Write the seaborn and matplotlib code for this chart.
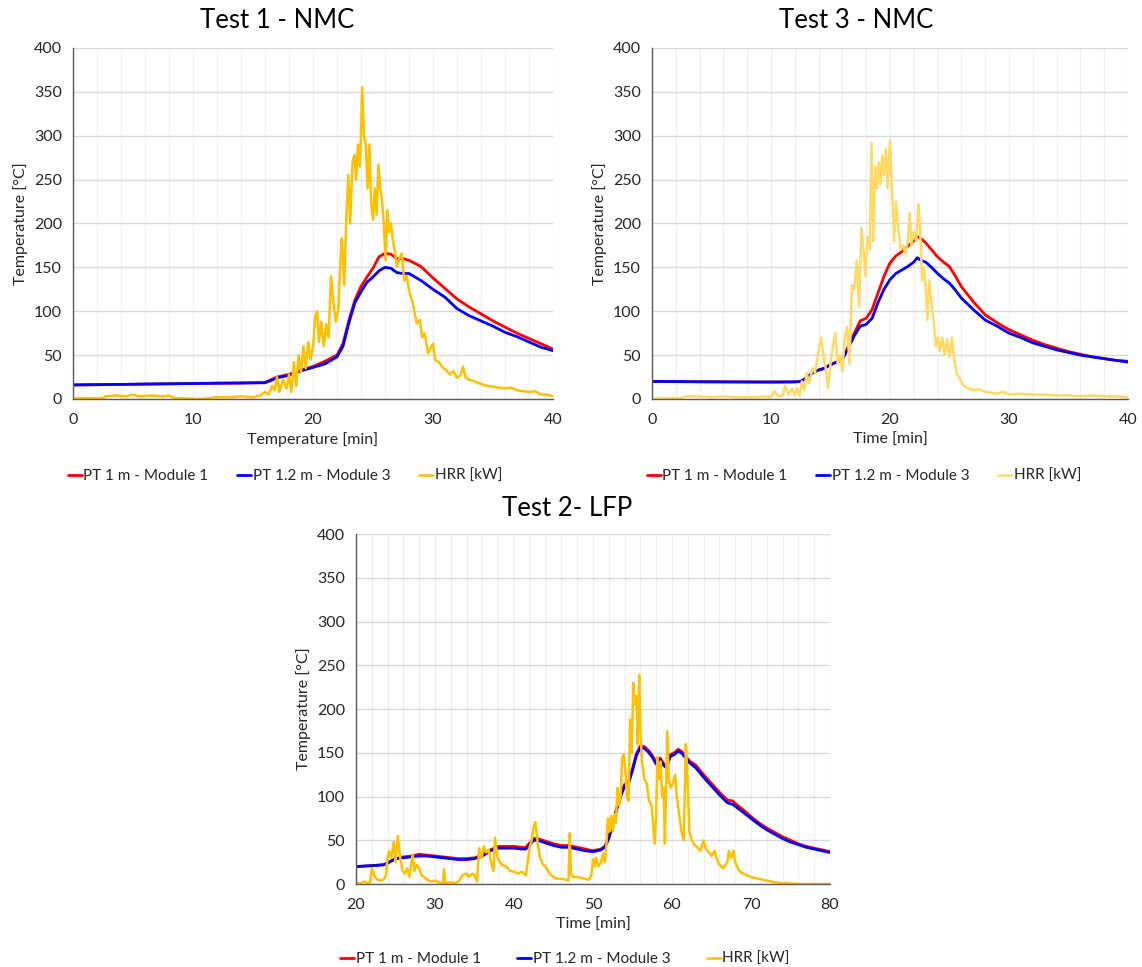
import numpy as np
import pandas as pd
import matplotlib
matplotlib.use("Agg")
import matplotlib.pyplot as plt
from matplotlib.ticker import MultipleLocator
import seaborn as sns

# ----- Test 1 - NMC -----
t1_time = [0, 2, 4, 6, 8, 10, 12, 14, 15, 16, 16.5, 17, 18, 19, 20, 21, 22, 22.5, 23, 23.5,
           24, 24.5, 25, 25.5, 26, 26.5, 27, 27.5, 28, 29, 30, 31, 32, 33, 34, 35, 36, 37, 38, 39, 40]
t1_pt1 = [16, 16.3, 16.6, 17, 17.3, 17.6, 18, 18.2, 18.4, 18.6, 22, 25, 28, 33, 37, 43, 50, 63, 90, 113,
          128, 139, 149, 162, 166, 165, 160, 160, 158, 151, 138, 126, 114, 105, 97, 89, 82, 75, 69, 63, 57]
t1_pt12 = [16, 16.3, 16.6, 17, 17.3, 17.6, 18, 18.2, 18.4, 18.6, 21, 24, 27, 32, 36, 40, 48, 60, 87, 110,
           122, 133, 139, 146, 150, 149, 144, 143, 143, 135, 125, 116, 103, 95, 89, 83, 76, 71, 65, 59, 55]
t1_hrr_time = [0, 1, 2, 2.5, 2.7, 3.5, 4.5, 5, 5.5, 6.5, 7.5, 8, 8.5, 9.5, 10.5, 11.5, 11.8, 13, 14, 15,
               15.6, 16, 16.3, 16.6, 16.8, 17, 17.2, 17.5, 17.8, 18, 18.2, 18.4, 18.6, 18.8, 19.0, 19.2, 19.4, 19.6, 19.8, 20.0,
               20.2, 20.35, 20.5, 20.7, 20.9, 21.1, 21.3, 21.5, 21.7, 21.9, 22.1, 22.3, 22.4, 22.6, 22.8, 22.95, 23.1, 23.3, 23.45, 23.6,
               23.75, 23.9, 24.0, 24.1, 24.25, 24.4, 24.55, 24.7, 24.85, 25.0, 25.15, 25.3, 25.45, 25.6, 25.75, 25.9, 26.05, 26.2, 26.35, 26.5,
               26.65, 26.8, 27.0, 27.2, 27.4, 27.6, 27.8, 28.0, 28.3, 28.65, 28.9, 29.1, 29.3, 29.6, 29.8, 30.0, 30.2, 30.5, 30.8, 31.1,
               31.4, 31.7, 32.0, 32.3, 32.5, 32.7, 33, 33.5, 34, 34.5, 35, 36, 36.5, 37, 38, 38.5, 39, 39.5, 40]
t1_hrr = [0.5, 1, 0.5, 1, 3, 4, 3, 5, 3, 4, 3, 4, 1, 0.5, 0, 1, 2, 2, 3, 2,
          4, 8, 5, 15, 10, 25, 8, 22, 12, 28, 8, 42, 15, 50, 30, 60, 35, 65, 45, 60,
          95, 100, 65, 88, 60, 85, 70, 140, 110, 88, 100, 160, 183, 130, 215, 255, 200, 270, 278, 250,
          290, 265, 300, 355, 300, 290, 240, 290, 223, 204, 240, 210, 267, 240, 227, 200, 158, 215, 190, 200,
          181, 170, 151, 160, 166, 135, 140, 124, 110, 86, 90, 70, 75, 52, 58, 63, 44, 42, 36, 33,
          28, 32, 24, 27, 37, 25, 22, 20, 17, 15, 14, 12, 13, 10, 8, 9, 5, 5, 3]

# ----- Test 3 - NMC -----
t3_time = [0, 2, 4, 6, 8, 10, 12, 12.5, 13, 13.5, 14, 14.5, 15, 15.5, 16, 16.5, 17, 17.5, 18, 18.5,
           19, 19.5, 20, 20.5, 21, 21.5, 22, 22.3, 22.6, 23, 23.5, 24, 24.5, 25, 25.5, 26, 27, 28, 29, 30,
           31, 32, 33, 34, 35, 36, 37, 38, 39, 40]
t3_pt1 = [20, 19.8, 19.6, 19.5, 19.4, 19.3, 19.5, 20, 24, 30, 33, 35, 39, 42, 45, 60, 75, 89, 92, 102,
          121, 140, 155, 163, 168, 174, 180, 185, 183, 178, 170, 162, 156, 151, 140, 128, 111, 96, 87, 79,
          73, 67, 62, 58, 54, 51, 48, 46, 44, 43]
t3_pt12 = [20, 19.8, 19.6, 19.5, 19.4, 19.3, 19.5, 20, 24, 30, 33, 35, 39, 42, 45, 58, 72, 83, 85, 92,
           110, 125, 136, 143, 147, 151, 156, 161, 158, 156, 150, 143, 137, 132, 124, 115, 102, 90, 83, 75,
           70, 64, 60, 56, 53, 50, 48, 46, 44, 42]
t3_hrr_time = [0, 1, 2.5, 2.8, 4, 5, 6, 7, 8, 9, 9.5, 10, 10.3, 10.6, 11, 11.2, 11.5, 11.8, 12, 12.2,
               12.4, 12.6, 12.8, 13, 13.2, 13.5, 13.7, 14, 14.2, 14.4, 14.6, 14.8, 15.0, 15.2, 15.4, 15.6, 15.8, 16.0, 16.2, 16.4,
               16.6, 16.8, 17.0, 17.2, 17.4, 17.6, 17.8, 17.95, 18.1, 18.3, 18.45, 18.6, 18.75, 18.9, 19.05, 19.2, 19.35, 19.5, 19.65, 19.8,
               20.0, 20.2, 20.35, 20.5, 20.7, 20.9, 21.1, 21.3, 21.5, 21.65, 21.8, 22.0, 22.2, 22.4, 22.55, 22.7, 22.85, 23.0, 23.15, 23.3,
               23.5, 23.7, 23.85, 24.0, 24.2, 24.4, 24.6, 24.8, 25.0, 25.2, 25.4, 25.6, 25.9, 26.2, 26.6, 27, 27.5, 28, 29, 29.5,
               30, 31, 32, 33, 34, 35, 36, 37, 38, 39, 40]
t3_hrr = [0.5, 1, 1, 3, 3, 2, 3, 2, 2, 2, 3, 2, 9, 3, 4, 15, 5, 12, 4, 12,
          3, 20, 10, 30, 18, 35, 30, 55, 70, 50, 35, 12, 40, 60, 75, 40, 50, 32, 70, 82,
          40, 130, 125, 158, 105, 195, 165, 140, 185, 170, 292, 180, 265, 240, 270, 245, 278, 255, 285, 240,
          295, 230, 180, 225, 195, 170, 175, 165, 180, 212, 175, 190, 180, 222, 190, 135, 150, 128, 90, 135,
          108, 85, 60, 70, 55, 70, 50, 68, 48, 70, 45, 30, 22, 15, 12, 10, 11, 8, 6, 8,
          5, 6, 5, 5, 4, 4, 3, 4, 3, 3, 2]

# ----- Test 2 - LFP -----
t2_time = [20, 22, 23.5, 24, 25, 26, 27, 28, 29, 30,
           31, 32, 33, 34, 35, 36, 36.5, 37, 38, 39,
           40, 41, 41.5, 42, 42.5, 43, 44, 45, 46, 47,
           48, 49, 50, 51, 51.5, 52, 52.5, 53, 53.5, 54,
           54.5, 55, 55.5, 56, 56.5, 57, 57.5, 58, 58.5, 59,
           59.3, 59.8, 60.3, 60.8, 61.3, 61.8, 62.3, 63, 64, 65,
           66, 67, 67.7, 68, 69, 70, 71, 72, 73, 74,
           75, 76, 77, 78, 79, 80]
t2_pt1 = [20, 21, 22, 24, 29, 31, 32, 34, 33, 32,
          31, 30, 29, 29, 30, 33, 36, 39, 43, 43,
          43, 42, 42, 47, 52, 52, 49, 46, 44, 44,
          42, 40, 38, 40, 43, 54, 70, 87, 102, 114,
          117, 132, 149, 158, 157, 153, 147, 139, 144, 137,
          135, 148, 150, 154, 151, 145, 140, 136, 125, 115,
          105, 96, 95, 92, 85, 77, 70, 64, 59, 54,
          50, 46, 43, 41, 39, 37]
t2_pt12 = [20, 21, 22, 24, 29, 30, 31, 32, 32, 31,
           30, 29, 28, 28, 29, 32, 35, 38, 41, 41,
           41, 40, 40, 45, 50, 50, 47, 44, 42, 42,
           40, 38, 37, 39, 42, 52, 68, 85, 100, 112,
           115, 130, 147, 156, 155, 151, 145, 137, 142, 135,
           133, 146, 148, 152, 149, 143, 138, 133, 122, 112,
           102, 93, 91, 89, 82, 75, 68, 62, 57, 52,
           48, 45, 42, 40, 38, 36]
t2_hrr_time = [20, 20.5, 21, 21.5, 21.8, 22, 22.3, 22.6, 23, 23.5,
               23.8, 24, 24.2, 24.4, 24.6, 24.8, 25, 25.3, 25.6, 25.9,
               26.2, 26.5, 26.8, 27, 27.2, 27.4, 27.7, 28, 28.3, 28.6,
               29, 29.5, 30, 30.5, 31, 31.15, 31.3, 32, 32.5, 33,
               33.5, 34, 34.3, 34.7, 35, 35.3, 35.6, 35.9, 36.2, 36.5,
               36.8, 37.1, 37.4, 37.6, 37.9, 38.2, 38.5, 39, 39.5, 40,
               40.5, 41, 41.5, 42, 42.2, 42.5, 42.7, 43.0, 43.3, 43.7,
               44, 44.5, 45, 45.5, 46, 46.5, 46.9, 47.05, 47.2, 47.5,
               48, 48.5, 49, 49.5, 49.8, 50, 50.2, 50.4, 50.7, 51,
               51.3, 51.5, 51.7, 51.9, 52.1, 52.3, 52.5, 52.7, 52.9, 53.1,
               53.3, 53.5, 53.7, 53.9, 54.1, 54.3, 54.5, 54.7, 54.9, 55.1,
               55.3, 55.5, 55.65, 55.85, 56.0, 56.2, 56.5, 56.8, 57.1, 57.4,
               57.6, 57.8, 58.0, 58.15, 58.35, 58.55, 58.75, 58.95, 59.1, 59.25,
               59.4, 59.6, 59.8, 60.1, 60.4, 60.6, 60.9, 61.2, 61.5, 61.75,
               61.95, 62.2, 62.5, 62.8, 63.2, 63.6, 64, 64.3, 64.7, 65,
               65.4, 65.7, 66, 66.5, 67, 67.2, 67.5, 67.8, 68, 68.5,
               69, 69.5, 70, 71, 72, 73, 74, 75, 76, 80]
t2_hrr = [2, 0, 3, 1, 2, 18, 10, 6, 4, 5,
          10, 30, 38, 30, 37, 48, 25, 55, 30, 15,
          12, 18, 8, 25, 33, 15, 22, 18, 10, 8,
          5, 3, 4, 2, 1, 17, 1, 2, 1, 3,
          10, 12, 8, 12, 10, 3, 41, 30, 43, 36,
          39, 25, 15, 53, 31, 25, 22, 20, 15, 14,
          12, 14, 10, 43, 48, 66, 71, 47, 30, 22,
          20, 12, 8, 6, 6, 5, 4, 58, 12, 8,
          8, 7, 6, 5, 10, 28, 20, 30, 20, 25,
          35, 25, 45, 75, 60, 78, 60, 80, 70, 110,
          90, 100, 145, 148, 130, 100, 95, 188, 150, 230,
          205, 215, 160, 239, 175, 140, 120, 115, 95, 90,
          70, 46, 80, 145, 120, 140, 100, 110, 46, 110,
          175, 120, 110, 115, 125, 100, 80, 60, 50, 160,
          125, 60, 50, 45, 42, 38, 50, 40, 36, 32,
          38, 28, 22, 18, 25, 38, 30, 38, 25, 15,
          12, 10, 8, 6, 4, 2, 1, 0.5, 0, 0]

RED = "#FF0000"
BLUE = "#0000FF"
GOLD = "#FFC000"
LIGHT_GOLD = "#FFD966"
TXT = "#262626"

sns.set_theme(style="white")
plt.rcParams["font.family"] = ["Lato", "DejaVu Sans"]

fig = plt.figure(figsize=(11.42, 9.67), dpi=100)


def draw(ax, xlabel, time, pt1, pt12, hrr_time, hrr, hrr_color, xlim):
    sns.lineplot(x=time, y=pt1, ax=ax, color=RED, linewidth=2.0, estimator=None,
                 label="PT 1 m - Module 1")
    sns.lineplot(x=time, y=pt12, ax=ax, color=BLUE, linewidth=2.0, estimator=None,
                 label="PT 1.2 m - Module 3")
    sns.lineplot(x=hrr_time, y=hrr, ax=ax, color=hrr_color, linewidth=1.8, estimator=None,
                 label="HRR [kW]")
    ax.set_xlim(*xlim)
    ax.set_ylim(0, 400)
    ax.xaxis.set_major_locator(MultipleLocator(10))
    ax.xaxis.set_minor_locator(MultipleLocator(2))
    ax.yaxis.set_major_locator(MultipleLocator(50))
    ax.grid(axis="x", which="both", color="#f0f0f0", linewidth=1.0)
    ax.grid(axis="y", which="major", color="#d9d9d9", linewidth=1.0)
    ax.set_axisbelow(True)
    for side in ("top", "right"):
        ax.spines[side].set_visible(False)
    for side in ("left", "bottom"):
        ax.spines[side].set_color("#595959")
        ax.spines[side].set_linewidth(1.0)
    ax.tick_params(axis="both", which="major", direction="out", length=4, width=1,
                   color="#595959", labelsize=11.5, labelcolor=TXT)
    ax.tick_params(axis="x", which="major", pad=6)
    ax.tick_params(axis="y", which="major", pad=4)
    ax.tick_params(axis="x", which="minor", length=0)
    ax.set_xlabel(xlabel, fontsize=11.5, color=TXT, labelpad=4)
    ax.set_ylabel("Temperature [°C]", fontsize=11.5, color=TXT, labelpad=4)
    ax.get_legend().remove()


ax1 = fig.add_axes([0.0639, 0.5874, 0.4203, 0.3630])
draw(ax1, "Temperature [min]", t1_time, t1_pt1, t1_pt12,
     t1_hrr_time, t1_hrr, GOLD, (0, 40))

ax3 = fig.add_axes([0.5709, 0.5874, 0.4168, 0.3630])
draw(ax3, "Time [min]", t3_time, t3_pt1, t3_pt12,
     t3_hrr_time, t3_hrr, LIGHT_GOLD, (0, 40))

ax2 = fig.add_axes([0.3117, 0.0858, 0.4151, 0.3619])
draw(ax2, "Time [min]", t2_time, t2_pt1, t2_pt12,
     t2_hrr_time, t2_hrr, GOLD, (20, 80))

# chart titles, centred on the chart area (like the spreadsheet original)
fig.text(277 / 1142, 1 - 21 / 967, "Test 1 - NMC", fontsize=18.5, ha="center", va="center", color="black")
fig.text(856 / 1142, 1 - 21 / 967, "Test 3 - NMC", fontsize=18.5, ha="center", va="center", color="black")
fig.text(567 / 1142, 1 - 508 / 967, "Test 2- LFP", fontsize=18.5, ha="center", va="center", color="black")

for ax, cx, cy, gap in [(ax1, 285 / 1142, 1 - 463 / 967, 1.9),
                        (ax3, 864 / 1142, 1 - 463 / 967, 1.9),
                        (ax2, 565 / 1142, 1 - 946 / 967, 2.4)]:
    handles, labels = ax.get_legend_handles_labels()
    fig.legend(handles, labels, loc="upper center", bbox_to_anchor=(cx, cy),
               ncol=3, frameon=False, fontsize=11, handlelength=0.9,
               handletextpad=0.1, columnspacing=gap, borderaxespad=0,
               labelcolor=TXT)

fig.savefig("out.png", dpi=100, facecolor="white")
